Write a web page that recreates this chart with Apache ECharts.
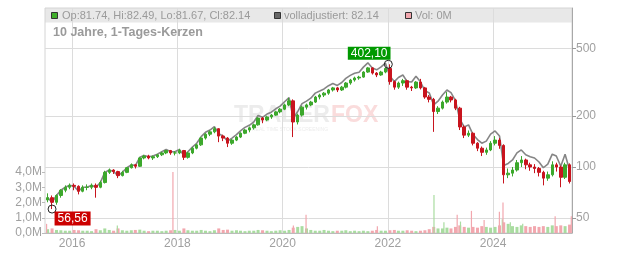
<!DOCTYPE html>
<html><head><meta charset="utf-8">
<script src="https://cdn.jsdelivr.net/npm/echarts@6/dist/echarts.min.js"></script>
<style>html,body{margin:0;padding:0;background:#fff}#c{width:632px;height:253px}</style>
</head><body><div id="c"></div>
<script>
// ---- data (monthly candles Jul 2015 .. Jun 2025) ----
const firstMonth = '2015-07';
// [open, close, low, high]
const ohlc = [
[64,66,62,70],[66,62,56.56,68],[62,68,60,69],[68,73,66,74],[73,76,71,78],[76,78,74,80],
[78,77,73,80],[77,72,69,78],[72,76,71,78],[76,76,73,79],[76,78,74,80],[78,76,66,80],
[76,81,75,83],[81,93,80,95],[93,96,91,98],[96,94,91,97],[94,89,86,95],[89,93,88,95],
[93,99,92,100],[99,103,98,105],[103,101,98,104],[101,113,100,114],[113,116,111,118],[116,113,111,118],
[113,115,110,117],[115,118,113,119],[118,121,116,123],[121,125,119,126],[125,121,118,126],[121,121,117,124],
[121,125,119,128],[125,114,110,126],[114,121,112,123],[121,129,119,131],[129,135,127,137],[135,148,133,150],
[148,156,145,158],[156,161,152,164],[161,168,158,172],[168,152,140,169],[152,148,142,155],[148,138,131,150],
[138,144,135,146],[144,150,142,152],[150,158,148,160],[158,165,156,167],[165,170,160,173],[170,177,166,180],
[177,194,175,196],[194,189,181,197],[189,197,186,200],[197,202,192,205],[202,211,200,214],[211,219,207,222],
[219,232,216,236],[232,245,228,255],[245,184,150,250],[184,202,178,206],[202,225,198,228],[225,232,218,236],
[232,241,228,245],[241,258,238,262],[258,265,250,270],[265,272,258,276],[272,284,266,288],[284,292,278,296],
[292,284,276,296],[284,295,280,300],[295,312,290,316],[312,325,305,330],[325,334,318,340],[334,338,326,344],
[338,362,335,366],[362,383,358,388],[383,357,350,386],[357,348,338,362],[348,362,344,368],[362,380,356,385],
[380,318,305,402.1],[318,295,285,322],[295,312,288,318],[312,322,300,330],[322,295,285,326],[295,292,280,300],
[292,316,288,320],[316,292,286,330],[292,258,252,296],[258,250,240,265],[250,212,161,255],[212,222,205,228],
[222,241,218,246],[241,258,236,276],[258,248,240,262],[248,222,216,252],[222,172,165,226],[172,154,148,176],
[154,158,150,164],[158,138,134,160],[138,129,124,140],[129,122,116,132],[122,126,118,130],[126,138,124,142],
[138,144,134,152],[144,134,128,148],[134,90,80,136],[90,92,86,98],[92,96,88,100],[96,106,94,110],
[106,110,100,116],[110,103,97,112],[103,100,95,106],[100,98,92,104],[98,93,88,100],[93,86,78,95],
[86,90,83,94],[90,103,88,108],[103,100,94,106],[100,87,76,102],[87,103,85,106],[103,82.14,80,105]
];
// fully adjusted line (volladjustiert)
const adjusted = [
66,62,68,73,76,78, 77,72,76,76,78,76, 81,93,96,94,89,93, 99,103,102,114,117,115,
116,119,123,127,123,123, 127,117,123,131,138,151, 160,165,173,157,152,142, 148,155,163,171,176,184,
201,196,205,210,220,228, 242,256,193,212,236,244, 254,272,280,288,301,310, 302,314,332,346,356,361,
387,410,382,373,388,408, 342,318,336,348,318,316, 342,317,281,273,232,244, 265,284,274,246,191,172,
177,155,145,138,142,156, 163,152,102,105,110,121, 126,118,115,113,107,99, 104,119,116,101,119,96
];
// typical daily volume per month (millions)
const volume = [
0.25,0.3,0.2,0.18,0.15,0.15,
0.2,0.18,0.15,0.15,0.12,0.25,0.18,0.3,0.2,0.15,0.3,0.18,
0.15,0.18,0.2,0.22,0.15,0.12,0.15,0.15,0.12,0.15,0.18,0.2,
0.15,0.3,0.18,0.15,0.15,0.2,0.15,0.12,0.18,0.3,0.2,0.22,
0.15,0.18,0.15,0.12,0.15,0.15,0.2,0.18,0.15,0.12,0.15,0.18,
0.15,0.2,0.35,0.4,0.45,0.3,0.2,0.15,0.15,0.2,0.15,0.12,
0.15,0.15,0.18,0.12,0.15,0.12,0.15,0.12,0.15,0.2,0.15,0.15,
0.18,0.2,0.15,0.15,0.18,0.15,0.12,0.15,0.18,0.25,0.4,0.3,
0.3,0.35,0.3,0.4,0.5,0.4,0.35,0.4,0.35,0.45,0.4,0.35,
0.4,0.5,0.7,0.6,0.45,0.4,0.5,0.45,0.4,0.45,0.4,0.45,
0.4,0.5,0.45,0.5,0.45,0.55
];
// single-day volume spikes [date, millions, up(1)/down(0)]
const volumeSpikes = [
['2015-07-08',0.6,0],['2016-11-10',0.5,1],['2017-12-01',4.0,0],['2020-03-16',0.5,0],
['2020-06-12',1.2,0],['2021-10-20',0.45,0],['2022-11-17',2.5,1],['2023-01-25',0.7,1],
['2023-04-27',1.2,0],['2023-05-20',0.75,1],['2023-08-04',1.45,0],['2023-10-31',0.85,0],
['2024-02-14',1.4,0],['2024-03-05',0.9,1],['2024-03-10',2.0,0],['2024-04-30',0.7,1],
['2024-07-25',0.6,1],['2025-03-07',1.1,0],['2025-06-27',1.1,0]
];
const priceTicks = [50,100,200,500];
const yearTicks = ['2016-01-01','2018-01-01','2020-01-01','2022-01-01','2024-01-01'];
const lowPoint = {date:'2015-08-15', value:56.56, text:'56,56'};
const highPoint = {date:'2022-01-04', value:402.1, text:'402,10'};
const header = {ohlc:'Op:81.74, Hi:82.49, Lo:81.67, Cl:82.14', adj:'volladjustiert: 82.14', vol:'Vol: 0M', title:'10 Jahre, 1-Tages-Kerzen'};

// ---- build ----
const ts = d => new Date(d + 'T00:00:00').getTime();
const monthDates = [];
for (let i = 0; i < ohlc.length; i++) {
  const k = 6 + i;
  const y = 2015 + Math.floor(k / 12), m = k % 12 + 1;
  monthDates.push(ts(y + '-' + String(m).padStart(2, '0') + '-15'));
}
const UP = '#3ca82c', DOWN = '#c8141e', VUP = '#a9dca0', VDOWN = '#f2a7ae';
const FONT = 'Liberation Sans, Arial, sans-serif';
const X0 = ts('2015-06-27'), X1 = ts('2025-07-02');
const yearTs = yearTicks.map(ts);

const chart = echarts.init(document.getElementById('c'), null, {renderer: 'canvas'});
const option = {
  animation: false,
  textStyle: {fontFamily: FONT},
  grid: [
    {left: 45, right: 60, top: 8, bottom: 20, show: true, borderColor: '#d4d4d4', borderWidth: 1, backgroundColor: 'transparent'},
    {left: 45, right: 60, top: 172, height: 61, show: false}
  ],
  xAxis: [
    {type: 'value', gridIndex: 0, min: X0, max: X1, scale: true,
     axisLine: {show: true, onZero: false, lineStyle: {color: '#bbb'}},
     axisTick: {show: false, customValues: yearTs},
     axisLabel: {customValues: yearTs, color: '#a0a0a0', fontSize: 12, margin: 5,
                 formatter: v => String(new Date(v).getFullYear())},
     splitLine: {show: true, lineStyle: {color: '#dcdcdc', width: 1}}},
    {type: 'value', gridIndex: 1, min: X0, max: X1, scale: true, show: false, splitLine: {show: false}},
    {type: 'value', gridIndex: 1, min: X0, max: X1, scale: true, show: false, splitLine: {show: false}}
  ],
  yAxis: [
    {type: 'log', gridIndex: 0, position: 'right', min: 40.9, max: 862, logBase: 10,
     axisLine: {show: true, lineStyle: {color: '#a8a8a8'}},
     axisTick: {show: true, length: 4, customValues: priceTicks, lineStyle: {color: '#999'}},
     axisLabel: {customValues: priceTicks, color: '#a0a0a0', fontSize: 12, margin: 4},
     splitLine: {show: true, lineStyle: {color: '#dcdcdc', width: 1}}},
    {type: 'value', gridIndex: 1, position: 'left', min: 0, max: 4, interval: 1,
     axisLine: {show: false},
     axisTick: {show: true, length: 3, lineStyle: {color: '#bbb'}},
     axisLabel: {color: '#a0a0a0', fontSize: 12, margin: 3,
                 formatter: v => v.toFixed(1).replace('.', ',') + 'M'},
     splitLine: {show: false}}
  ],
  graphic: [
    {type: 'rect', z: -10, shape: {x: 45, y: 8, width: 527, height: 14.5}, style: {fill: '#e8e8e8'}},
    {type: 'rect', z: 100, shape: {x: 51.5, y: 12.5, width: 6, height: 6}, style: {fill: '#3fae2a', stroke: '#333', lineWidth: 1}},
    {type: 'text', z: 100, x: 62, y: 15.5, style: {text: header.ohlc, fill: '#9a9a9a', font: '11px ' + FONT, textVerticalAlign: 'middle'}},
    {type: 'rect', z: 100, shape: {x: 274.5, y: 12.5, width: 6, height: 6}, style: {fill: '#666', stroke: '#333', lineWidth: 1}},
    {type: 'text', z: 100, x: 284, y: 15.5, style: {text: header.adj, fill: '#9a9a9a', font: '11px ' + FONT, textVerticalAlign: 'middle'}},
    {type: 'rect', z: 100, shape: {x: 405.5, y: 12.5, width: 6, height: 6}, style: {fill: '#f2a7ae', stroke: '#333', lineWidth: 1}},
    {type: 'text', z: 100, x: 415, y: 15.5, style: {text: header.vol, fill: '#9a9a9a', font: '11px ' + FONT, textVerticalAlign: 'middle'}},
    {type: 'text', z: 100, x: 53, y: 33, style: {text: header.title, fill: '#9a9a9a', font: 'bold 12.5px ' + FONT, textVerticalAlign: 'middle'}},
    {type: 'text', z: -5, x: 234, y: 116, style: {text: 'TRADER', fill: '#ececec', font: 'bold 23px ' + FONT, textVerticalAlign: 'middle'}},
    {type: 'text', z: -5, x: 331, y: 116, style: {text: 'FOX', fill: '#fadcdc', font: 'bold 23px ' + FONT, textVerticalAlign: 'middle'}},
    {type: 'text', z: -5, x: 252, y: 130, style: {text: 'REAL TIME STOCK SCREENING', fill: '#ececec', font: '5px ' + FONT, textVerticalAlign: 'middle'}}
  ],
  series: [
    {type: 'line', xAxisIndex: 0, yAxisIndex: 0, z: 1, symbol: 'none', silent: true,
     lineStyle: {color: '#858585', width: 1.6},
     data: monthDates.map((d, i) => [d, adjusted[i]])},
    {type: 'candlestick', xAxisIndex: 0, yAxisIndex: 0, z: 3, barWidth: 3,
     encode: {x: 0, y: [1, 2, 3, 4]},
     itemStyle: {color: UP, color0: DOWN, borderColor: UP, borderColor0: DOWN, borderWidth: 1},
     data: monthDates.map((d, i) => [d].concat(ohlc[i])),
     markPoint: {
       symbol: 'circle', symbolSize: 8, silent: true,
       itemStyle: {color: 'rgba(0,0,0,0)', borderColor: '#222', borderWidth: 1},
       data: [
         {coord: [ts(lowPoint.date), lowPoint.value],
          label: {show: true, formatter: lowPoint.text, position: [7, 7], color: '#fff', backgroundColor: '#cc0000',
                  padding: [1, 3, 0, 3], fontSize: 12, lineHeight: 13, fontFamily: FONT}},
         {coord: [ts(highPoint.date), highPoint.value],
          label: {show: true, formatter: highPoint.text, position: [-36, -13], color: '#fff', backgroundColor: '#009900',
                  padding: [1, 3, 0, 3], fontSize: 12, lineHeight: 12, fontFamily: FONT}}
       ]
     }},
    {type: 'bar', xAxisIndex: 1, yAxisIndex: 1, barWidth: 3, silent: true,
     data: monthDates.map((d, i) => ({value: [d, volume[i]], itemStyle: {color: ohlc[i][1] >= ohlc[i][0] ? VUP : VDOWN}}))},
    {type: 'bar', xAxisIndex: 2, yAxisIndex: 1, barWidth: 1.2, silent: true,
     data: volumeSpikes.map(s => ({value: [ts(s[0]), s[1]], itemStyle: {color: s[2] ? VUP : VDOWN}}))}
  ]
};
chart.setOption(option);
</script>
</body></html>
